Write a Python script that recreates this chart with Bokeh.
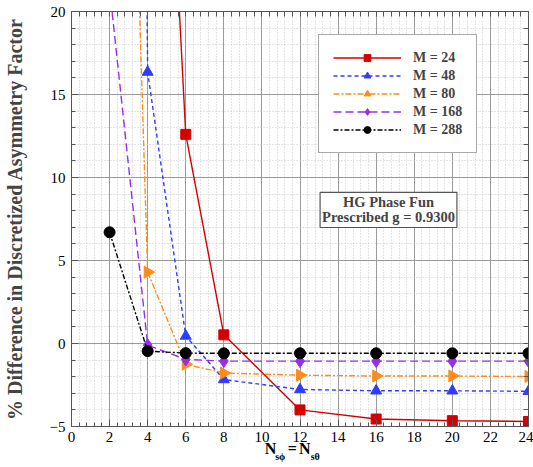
import math
from bokeh.plotting import figure
from bokeh.models import Range1d, LinearAxis, FixedTicker, Legend, LegendItem, Label
from bokeh.embed import file_html
from bokeh.resources import INLINE

# ---- data ----
n_all = [2, 4, 6, 8, 12, 16, 20, 24]
m24_x = [4, 6, 8, 12, 16, 20, 24]
m24_y = [57.0, 12.6, 0.52, -4.0, -4.55, -4.65, -4.7]
m48_y = [250.0, 16.35, 0.45, -2.17, -2.77, -2.85, -2.85, -2.88]
m80_y = [78.0, 4.3, -1.25, -1.78, -1.91, -1.96, -1.96, -1.99]
m168_y = [21.4, -0.1, -0.96, -1.06, -1.06, -1.06, -1.06, -1.06]
m288_y = [6.7, -0.46, -0.58, -0.59, -0.59, -0.59, -0.59, -0.59]
labels = ["M = 24", "M = 48", "M = 80", "M = 168", "M = 288"]
x_ticks = list(range(0, 25, 2))
y_ticks = [-5, 0, 5, 10, 15, 20]
x_minor = [i * 0.4 for i in range(61)]
y_minor = list(range(-5, 21))
# x-axis title pieces: main letters and subscripts (placed along the x axis)
xtitle_main = {10.45: "N", 11.59: "=", 12.25: "N"}
xtitle_sub = {10.96: "sϕ", 12.8: "sθ"}

SERIF = "Liberation Serif"
AXC = "#555555"

p = figure(width=533, height=467, output_backend="svg", toolbar_location=None,
           x_range=Range1d(0, 24), y_range=Range1d(-5, 20),
           min_border_left=71, min_border_right=5, min_border_top=11, min_border_bottom=41)
p.background_fill_color = "white"
p.border_fill_color = "white"
p.outline_line_color = AXC
p.outline_line_width = 1

# axes
for ax in (p.xaxis[0], p.yaxis[0]):
    ax.major_label_text_font = SERIF
    ax.major_label_text_font_size = "15px"
    ax.major_label_text_color = "black"
    ax.major_tick_in = 7
    ax.major_tick_out = 0
    ax.minor_tick_in = 4
    ax.minor_tick_out = 0
    ax.axis_line_color = AXC
    ax.major_tick_line_color = AXC
    ax.minor_tick_line_color = AXC
p.xaxis.ticker = FixedTicker(ticks=x_ticks, minor_ticks=x_minor)
p.yaxis.ticker = FixedTicker(ticks=y_ticks, minor_ticks=y_minor)
p.xaxis.major_label_standoff = 5
p.yaxis.major_label_standoff = 6
p.yaxis.axis_label = "% Difference in Discretized Asymmetry Factor"
p.yaxis.axis_label_text_font = SERIF
p.yaxis.axis_label_text_font_style = "bold"
p.yaxis.axis_label_text_font_size = "20px"
p.yaxis.axis_label_standoff = 21

# mirrored tick marks (no labels) on top and right
for loc, mt in (("above", x_minor), ("right", y_minor)):
    a = LinearAxis(ticker=FixedTicker(ticks=[], minor_ticks=mt))
    a.major_label_standoff = 0
    a.minor_tick_in = 5
    a.minor_tick_out = 0
    a.major_tick_in = 0
    a.major_tick_out = 0
    a.axis_line_color = AXC
    a.minor_tick_line_color = AXC
    p.add_layout(a, loc)

# x-axis title built from two label-only axes (letters, then subscripts)
for pieces, fs, stand in ((xtitle_main, "16px", -5), (xtitle_sub, "10px", -9)):
    a = LinearAxis(ticker=FixedTicker(ticks=list(pieces.keys()), minor_ticks=[]),
                   major_label_overrides=pieces)
    a.major_label_text_font = SERIF
    a.major_label_text_font_style = "bold"
    a.major_label_text_font_size = fs
    a.major_label_text_color = "black"
    a.major_label_standoff = stand
    a.major_tick_in = 0
    a.major_tick_out = 0
    a.minor_tick_in = 0
    a.minor_tick_out = 0
    a.axis_line_color = None
    a.major_tick_line_color = None
    a.minor_tick_line_color = None
    p.add_layout(a, "below")

# grid
p.xgrid.grid_line_color = "#9a9a9a"
p.ygrid.grid_line_color = "#9a9a9a"
p.xgrid.minor_grid_line_color = "#c8c8c8"
p.ygrid.minor_grid_line_color = "#c8c8c8"
p.xgrid.minor_grid_line_dash = "1 2"
p.ygrid.minor_grid_line_dash = "1 2"

series = [
    (m24_x, m24_y, "#d40000", "solid", "square", 0.0, 10),
    (n_all, m48_y, "#2f3cff", "4 3", "triangle", 0.0, 11),
    (n_all, m80_y, "#ff8c1a", "6 2 2 2", "triangle", -math.pi / 2, 12),
    (n_all, m168_y, "#9a2cf0", "8 4", "diamond", 0.0, 13),
    (n_all, m288_y, "black", "5 2 2 2", "circle", 0.0, 11),
]
items = []
for (xs, ys, col, dash, mk, ang, sz), lab in zip(series, labels):
    r1 = p.line(xs, ys, line_color=col, line_width=1.4, line_dash=dash)
    r2 = p.scatter(xs, ys, marker=mk, angle=ang, size=sz, fill_color=col, line_color=col)
    items.append(LegendItem(label=lab, renderers=[r1, r2]))

leg = Legend(items=items, location=(247, 273), glyph_width=68, glyph_height=17,
             label_text_font=SERIF, label_text_font_style="bold",
             label_text_font_size="14px", spacing=1, padding=14, margin=0,
             label_standoff=12, border_line_color=AXC, border_line_width=1.2,
             background_fill_alpha=1.0)
p.add_layout(leg, "center")

# annotation box
box = Label(x=317, y=199, x_units="screen", y_units="screen",
            text="HG Phase Fun\nPrescribed g = 0.9300", text_align="center",
            text_font=SERIF, text_font_style="bold", text_font_size="14.5px",
            text_line_height=0.95,
            background_fill_color="white", border_line_color=AXC,
            border_line_width=1.2, padding=2)
p.add_layout(box)

open("out.html", "w").write(file_html(p, INLINE))
